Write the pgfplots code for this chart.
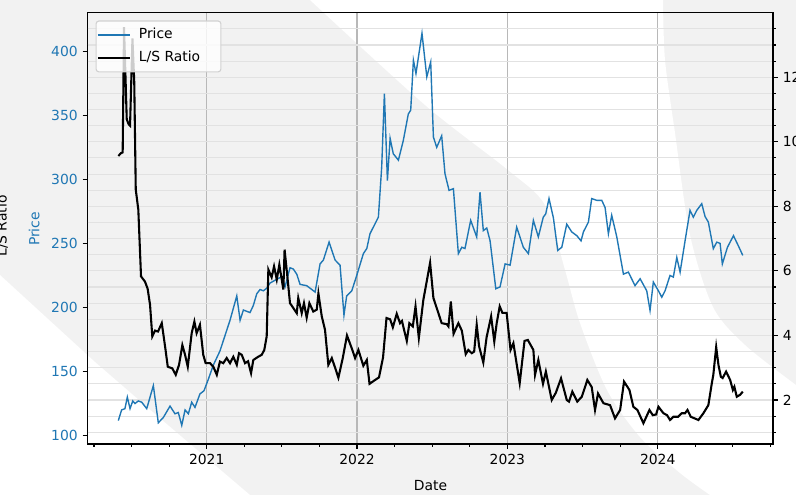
\documentclass[border=0pt]{standalone}
\usepackage{pgfplots}
\pgfplotsset{compat=1.18}
\usepackage{fontspec}
\setmainfont{DejaVu Sans}
\definecolor{priceblue}{HTML}{1F77B4}
\definecolor{wm}{HTML}{F2F2F2}
\definecolor{vgrid}{HTML}{B8B8B8}
\definecolor{hgrid}{HTML}{E2E2E2}

\pgfplotstableread{
x y
2020.412 111.7
2020.434 120
2020.456 121
2020.472 130
2020.490 121
2020.508 127
2020.523 125
2020.545 127
2020.568 126
2020.601 121
2020.645 139
2020.678 110
2020.711 114
2020.756 123
2020.789 117
2020.811 118
2020.834 108
2020.856 120
2020.878 117
2020.900 126
2020.922 122
2020.955 132.5
2020.982 135
2021.011 144
2021.044 155
2021.088 166
2021.155 190
2021.200 209
2021.222 190
2021.244 198
2021.288 196
2021.310 201.5
2021.333 210.7
2021.355 214
2021.377 213
2021.399 215
2021.421 219
2021.466 222
2021.499 224
2021.521 216
2021.554 231
2021.576 230
2021.599 226
2021.621 218
2021.665 217
2021.699 214
2021.721 212
2021.754 234
2021.776 237
2021.814 251
2021.854 237
2021.887 233
2021.913 194
2021.931 209
2021.965 213
2021.998 225
2022.042 242
2022.065 246
2022.086 257.5
2022.142 270.5
2022.164 309.6
2022.182 367
2022.202 299
2022.220 332
2022.241 320
2022.275 315
2022.308 330.5
2022.341 351
2022.357 354
2022.375 393
2022.392 382.6
2022.432 414
2022.464 380
2022.490 391.6
2022.508 333
2022.530 325
2022.563 334
2022.585 304.4
2022.612 291.4
2022.641 292.7
2022.674 242
2022.697 247
2022.718 246
2022.756 268
2022.796 255
2022.818 290
2022.840 260
2022.863 262
2022.885 252
2022.923 214.6
2022.951 216
2022.985 234
2023.018 233
2023.062 262.7
2023.106 247
2023.140 242
2023.173 268
2023.206 255
2023.239 270.5
2023.255 273
2023.277 285
2023.306 270
2023.335 244.5
2023.362 247
2023.395 265
2023.428 259
2023.462 256
2023.490 252
2023.506 259
2023.539 266.6
2023.561 285
2023.595 283.6
2023.628 283.6
2023.650 278
2023.672 257.5
2023.694 272
2023.728 255
2023.772 226
2023.805 227.6
2023.849 217
2023.883 222.4
2023.927 213
2023.949 197.7
2023.971 219.8
2024.005 213
2024.027 208
2024.049 213
2024.082 225
2024.104 223.7
2024.127 239
2024.149 227.6
2024.182 252
2024.215 275.8
2024.237 270.5
2024.260 275.8
2024.293 281
2024.315 271
2024.337 266.6
2024.370 245.9
2024.393 251
2024.415 250
2024.430 234
2024.464 247
2024.504 256
2024.537 248
2024.566 240.6
}\pricetable

\pgfplotstableread{
x y
2020.412 9.56
2020.430 9.65
2020.441 9.67
2020.450 13.55
2020.468 10.7
2020.480 10.55
2020.490 10.5
2020.506 13.2
2020.518 11.84
2020.528 8.52
2020.545 7.9
2020.563 5.83
2020.589 5.67
2020.607 5.45
2020.623 4.95
2020.638 3.97
2020.656 4.15
2020.676 4.12
2020.701 4.38
2020.723 3.66
2020.741 3.03
2020.771 2.98
2020.794 2.78
2020.816 3.09
2020.838 3.7
2020.856 3.4
2020.874 3.03
2020.900 4.07
2020.918 4.43
2020.933 4.07
2020.955 4.33
2020.977 3.4
2020.993 3.14
2021.022 3.14
2021.044 3.03
2021.067 2.78
2021.088 3.19
2021.110 3.14
2021.133 3.3
2021.155 3.14
2021.177 3.34
2021.200 3.09
2021.215 3.45
2021.233 3.4
2021.255 3.14
2021.275 3.2
2021.295 2.83
2021.310 3.24
2021.343 3.34
2021.366 3.4
2021.383 3.55
2021.399 3.97
2021.410 6.04
2021.432 5.8
2021.448 6.14
2021.466 5.73
2021.483 6.19
2021.510 5.42
2021.518 6.66
2021.536 5.85
2021.554 5.0
2021.576 4.85
2021.599 4.69
2021.609 5.16
2021.632 4.69
2021.647 5.0
2021.665 4.55
2021.683 5.0
2021.709 4.74
2021.732 4.8
2021.743 5.3
2021.765 4.6
2021.787 4.17
2021.809 3.09
2021.832 3.3
2021.854 3.0
2021.876 2.69
2021.905 3.3
2021.933 4.0
2021.965 3.6
2021.987 3.3
2022.009 3.55
2022.042 3.06
2022.065 3.24
2022.083 2.5
2022.120 2.62
2022.146 2.7
2022.173 3.32
2022.196 4.54
2022.220 4.5
2022.238 4.25
2022.264 4.67
2022.286 4.38
2022.299 4.45
2022.313 4.17
2022.331 3.83
2022.348 4.38
2022.371 4.28
2022.389 4.9
2022.411 3.92
2022.441 5.1
2022.486 6.25
2022.508 5.16
2022.530 4.85
2022.563 4.38
2022.597 4.35
2022.608 4.28
2022.624 5.05
2022.642 4.05
2022.674 4.38
2022.697 4.15
2022.723 3.42
2022.740 3.55
2022.763 3.45
2022.779 3.5
2022.796 4.33
2022.812 3.66
2022.840 3.16
2022.862 3.95
2022.892 4.59
2022.913 3.81
2022.929 4.38
2022.949 4.9
2022.967 4.7
2022.995 4.7
2023.021 3.55
2023.040 3.76
2023.082 2.52
2023.114 3.83
2023.136 3.86
2023.173 3.55
2023.184 2.78
2023.206 3.24
2023.237 2.5
2023.256 2.88
2023.295 2.0
2023.322 2.22
2023.357 2.67
2023.395 2.0
2023.410 1.95
2023.432 2.26
2023.465 1.95
2023.495 2.1
2023.532 2.62
2023.561 2.4
2023.583 1.69
2023.603 2.2
2023.639 1.9
2023.683 1.84
2023.716 1.43
2023.750 1.69
2023.776 2.57
2023.812 2.31
2023.838 1.79
2023.865 1.69
2023.905 1.28
2023.945 1.69
2023.967 1.53
2023.989 1.55
2024.005 1.79
2024.038 1.59
2024.062 1.53
2024.082 1.38
2024.104 1.48
2024.136 1.48
2024.160 1.59
2024.182 1.59
2024.198 1.69
2024.220 1.48
2024.271 1.38
2024.304 1.59
2024.337 1.84
2024.360 2.52
2024.370 2.78
2024.389 3.64
2024.404 3.09
2024.420 2.72
2024.432 2.68
2024.455 2.88
2024.482 2.62
2024.500 2.31
2024.510 2.41
2024.526 2.1
2024.548 2.16
2024.566 2.26
}\ratiotable

\begin{document}
\begin{tikzpicture}
\begin{scope}[x=0.72pt,y=-0.72pt]
\fill[wm] (0,0) rectangle (796,495);
\fill[white] (0,275) -- (95,362) -- (162,420) -- (250,495) -- (0,495) -- cycle;
\fill[white] plot[smooth] coordinates {(310,0) (425,105) (508,170) (545,205) (565,270) (580,323) (607,390) (640,437) (680,473) (710,495)}
  -- (796,495) -- (796,385) -- plot[smooth] coordinates {(796,385) (745,345) (713,307) (690,235) (675,133) (665,60) (663,0)} -- cycle;
\end{scope}

\pgfplotsset{
  common/.style={
    at={(63pt,-319.68pt)}, anchor=south west, scale only axis,
    width=493.56pt, height=310.54pt,
    xmin=2020.207, xmax=2024.767,
    tick align=outside,
    major tick length=3.5pt, minor tick length=2pt,
    every tick/.style={black, line width=0.8pt},
    axis line style={line width=0.8pt},
    tick label style={font=\fontsize{10}{12}\selectfont},
    /pgf/number format/assume math mode=true,
  }
}

\begin{axis}[common,
  ymin=93.4, ymax=430.1,
  xtick={2021,2022,2023,2024}, xticklabels={2021,2022,2023,2024},
  minor xtick={2020.25,2020.5,2020.75,2021.25,2021.5,2021.75,2022.25,2022.5,2022.75,2023.25,2023.5,2023.75,2024.25,2024.5,2024.75},
  xtick pos=bottom, ytick pos=left,
  ytick={100,150,200,250,300,350,400},
  yticklabel style={text=priceblue},
  xmajorgrids, major x grid style={color=vgrid, line width=0.8pt},
  extra y ticks={102.57,115.17,127.77,140.36,152.96,165.56,178.16,190.75,203.35,215.95,228.54,241.14,253.74,266.34,278.93,291.53,304.13,316.72,329.32,341.92,354.52,367.11,379.71,392.31,404.90,417.50},
  extra y tick labels={},
  extra y tick style={ymajorgrids=true, major tick length=0pt, major grid style={color=hgrid, line width=0.8pt}},
]
\addplot[priceblue, line width=1pt] table[x=x,y=y] {\pricetable};
\end{axis}

\begin{axis}[common,
  ymin=0.636, ymax=14.0,
  axis x line=none, axis y line*=right,
  ytick={2,4,6,8,10,12},
  minor ytick={1,1.5,2,2.5,3,3.5,4,4.5,5,5.5,6,6.5,7,7.5,8,8.5,9,9.5,10,10.5,11,11.5,12,12.5,13,13.5},
  legend style={at={(0,1)}, anchor=north west, xshift=5.8pt, yshift=-5.6pt,
    draw=black!18, line width=0.8pt, rounded corners=2pt,
    fill=white, fill opacity=0.8, draw opacity=1, text opacity=1,
    inner xsep=0.5pt, inner ysep=2.8pt, row sep=2pt, column sep=2.9pt,
    font=\fontsize{10}{12}\selectfont,
    nodes={inner xsep=2.4pt, inner ysep=2.5pt, text height=7.5pt, text depth=2pt},
    cells={anchor=west}},
  legend image code/.code={\draw[#1] (0pt,0pt) -- (23.5pt,0pt);},
]
\addlegendimage{priceblue, line width=1pt}
\addlegendentry{Price}
\addplot[black, line width=1.5pt] table[x=x,y=y] {\ratiotable};
\addlegendentry{L/S Ratio\rule{12pt}{0pt}}
\end{axis}

\begin{scope}[x=0.72pt,y=-0.72pt]
\node[rotate=90, anchor=base, inner sep=0pt, text=priceblue, font=\fontsize{10}{12}\selectfont] at (39.3,229) {Price};
\node[rotate=90, anchor=base, inner sep=0pt, font=\fontsize{10}{12}\selectfont] at (6.5,226) {L/S Ratio};
\node[anchor=base, inner sep=0pt, font=\fontsize{10}{12}\selectfont] at (430.5,490.5) {Date};
\pgfresetboundingbox
\useasboundingbox (0,0) rectangle (796,495);
\end{scope}
\end{tikzpicture}
\end{document}
